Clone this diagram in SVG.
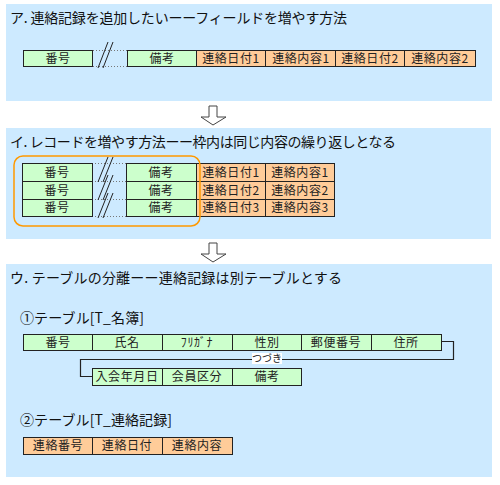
<svg xmlns="http://www.w3.org/2000/svg" width="500" height="485" viewBox="0 0 500 485">
<style>
.panel{fill:#cdeaff}
.g{fill:#ccffcc;stroke:#222;stroke-width:1}
.o{fill:#ffcc99;stroke:#222;stroke-width:1}
.t{font-family:"Noto Sans CJK JP","Noto Sans",sans-serif;font-size:12px;fill:#222;text-anchor:middle;letter-spacing:0.6px}
.h{font-family:"Noto Sans CJK JP","Noto Sans",sans-serif;font-size:14px;fill:#111}
.dot{stroke:#777;stroke-width:1;stroke-dasharray:1 2;fill:none}
.sl{stroke:#222;stroke-width:1;fill:none}
.arr{fill:#fff;stroke:#444;stroke-width:1}
.ln{stroke:#222;stroke-width:1.2;fill:none}
</style>
<rect class="panel" x="6" y="4" width="486" height="97"/>
<rect class="panel" x="6" y="128" width="485" height="111"/>
<rect class="panel" x="6" y="264" width="486" height="213"/>

<g id="arrow1"><path class="arr" d="M209,106 H217 V117 H226 L213,125 L201,117 H209 Z"/></g>
<g id="arrow2"><path class="arr" d="M209,243 H217 V254 H226 L213,262 L201,254 H209 Z"/></g>

<text class="h" x="10" y="23" textLength="337" lengthAdjust="spacing">ア. 連絡記録を追加したいーーフィールドを増やす方法</text>
<text class="h" x="10" y="147" textLength="386" lengthAdjust="spacing">イ. レコードを増やす方法ーー枠内は同じ内容の繰り返しとなる</text>
<text class="h" x="10" y="283" textLength="332" lengthAdjust="spacing">ウ. テーブルの分離ーー連絡記録は別テーブルとする</text>
<text class="h" x="20" y="323" textLength="124" lengthAdjust="spacing">①テーブル[T_名簿]</text>
<text class="h" x="20" y="425" textLength="152" lengthAdjust="spacing">②テーブル[T_連絡記録]</text>

<g id="rowA">
<path class="dot" d="M93,50.5 H127 M93,66.5 H127"/>
<path class="sl" d="M98,68 L108,42 M103,68 L113,42"/>
<rect class="g" x="23.5" y="50.5" width="69" height="16"/><text class="t" x="58" y="63">番号</text>
<rect class="g" x="127.5" y="50.5" width="69" height="16"/><text class="t" x="162" y="63">備考</text>
<rect class="o" x="196.5" y="50.5" width="69" height="16"/><text class="t" x="231" y="63">連絡日付1</text>
<rect class="o" x="265.5" y="50.5" width="70" height="16"/><text class="t" x="301" y="63">連絡内容1</text>
<rect class="o" x="335.5" y="50.5" width="69" height="16"/><text class="t" x="370" y="63">連絡日付2</text>
<rect class="o" x="404.5" y="50.5" width="71" height="16"/><text class="t" x="440" y="63">連絡内容2</text>
</g>

<g id="rowsB">
<path class="dot" d="M92,163.5 H127 M92,181.5 H127 M92,199.5 H127 M92,216.5 H127"/>
<path class="sl" d="M98,182 L108,157 M103,182 L113,157 M98,200 L108,175 M103,200 L113,175 M98,218 L108,193 M103,218 L113,193"/>
<rect class="g" x="22.5" y="163.5" width="70" height="18"/><text class="t" x="57" y="177">番号</text>
<rect class="g" x="22.5" y="181.5" width="70" height="18"/><text class="t" x="57" y="195">番号</text>
<rect class="g" x="22.5" y="199.5" width="70" height="17"/><text class="t" x="57" y="212">番号</text>
<rect class="g" x="126.5" y="163.5" width="70" height="18"/><text class="t" x="161" y="177">備考</text>
<rect class="g" x="126.5" y="181.5" width="70" height="18"/><text class="t" x="161" y="195">備考</text>
<rect class="g" x="126.5" y="199.5" width="70" height="17"/><text class="t" x="161" y="212">備考</text>
<rect class="o" x="196.5" y="163.5" width="69" height="18"/><text class="t" x="231" y="177">連絡日付1</text>
<rect class="o" x="196.5" y="181.5" width="69" height="18"/><text class="t" x="231" y="195">連絡日付2</text>
<rect class="o" x="196.5" y="199.5" width="69" height="17"/><text class="t" x="231" y="212">連絡日付3</text>
<rect class="o" x="265.5" y="163.5" width="69" height="18"/><text class="t" x="300" y="177">連絡内容1</text>
<rect class="o" x="265.5" y="181.5" width="69" height="18"/><text class="t" x="300" y="195">連絡内容2</text>
<rect class="o" x="265.5" y="199.5" width="69" height="17"/><text class="t" x="300" y="212">連絡内容3</text>
</g>
<g id="frame"><rect x="14" y="156" width="186" height="70" rx="9" fill="none" stroke="#f90" stroke-width="1.5"/></g>

<g id="connectors">
<path class="ln" d="M441,341.5 H453.5 V359.5 H80.5 V376.5 H93"/>
<rect x="252" y="353" width="30" height="11" fill="#fff"/>
<text x="267" y="362" style="font-family:'Noto Sans CJK JP',sans-serif;font-size:10px;fill:#222;text-anchor:middle">つづき</text>
</g>

<g id="tableMeibo">
<rect class="g" x="23.5" y="334.5" width="69" height="16"/><text class="t" x="58" y="347">番号</text>
<rect class="g" x="92.5" y="334.5" width="70" height="16"/><text class="t" x="127" y="347">氏名</text>
<rect class="g" x="162.5" y="334.5" width="70" height="16"/><text class="t" x="197" y="347">ﾌﾘｶﾞﾅ</text>
<rect class="g" x="232.5" y="334.5" width="69" height="16"/><text class="t" x="267" y="347">性別</text>
<rect class="g" x="301.5" y="334.5" width="70" height="16"/><text class="t" x="336" y="347">郵便番号</text>
<rect class="g" x="371.5" y="334.5" width="70" height="16"/><text class="t" x="406" y="347">住所</text>
<rect class="g" x="92.5" y="368.5" width="70" height="17"/><text class="t" x="127" y="381">入会年月日</text>
<rect class="g" x="162.5" y="368.5" width="70" height="17"/><text class="t" x="197" y="381">会員区分</text>
<rect class="g" x="232.5" y="368.5" width="69" height="17"/><text class="t" x="267" y="381">備考</text>
</g>

<g id="tableRenraku">
<rect class="o" x="23.5" y="437.5" width="69" height="17"/><text class="t" x="58" y="450">連絡番号</text>
<rect class="o" x="92.5" y="437.5" width="70" height="17"/><text class="t" x="127" y="450">連絡日付</text>
<rect class="o" x="162.5" y="437.5" width="70" height="17"/><text class="t" x="197" y="450">連絡内容</text>
</g>
</svg>
